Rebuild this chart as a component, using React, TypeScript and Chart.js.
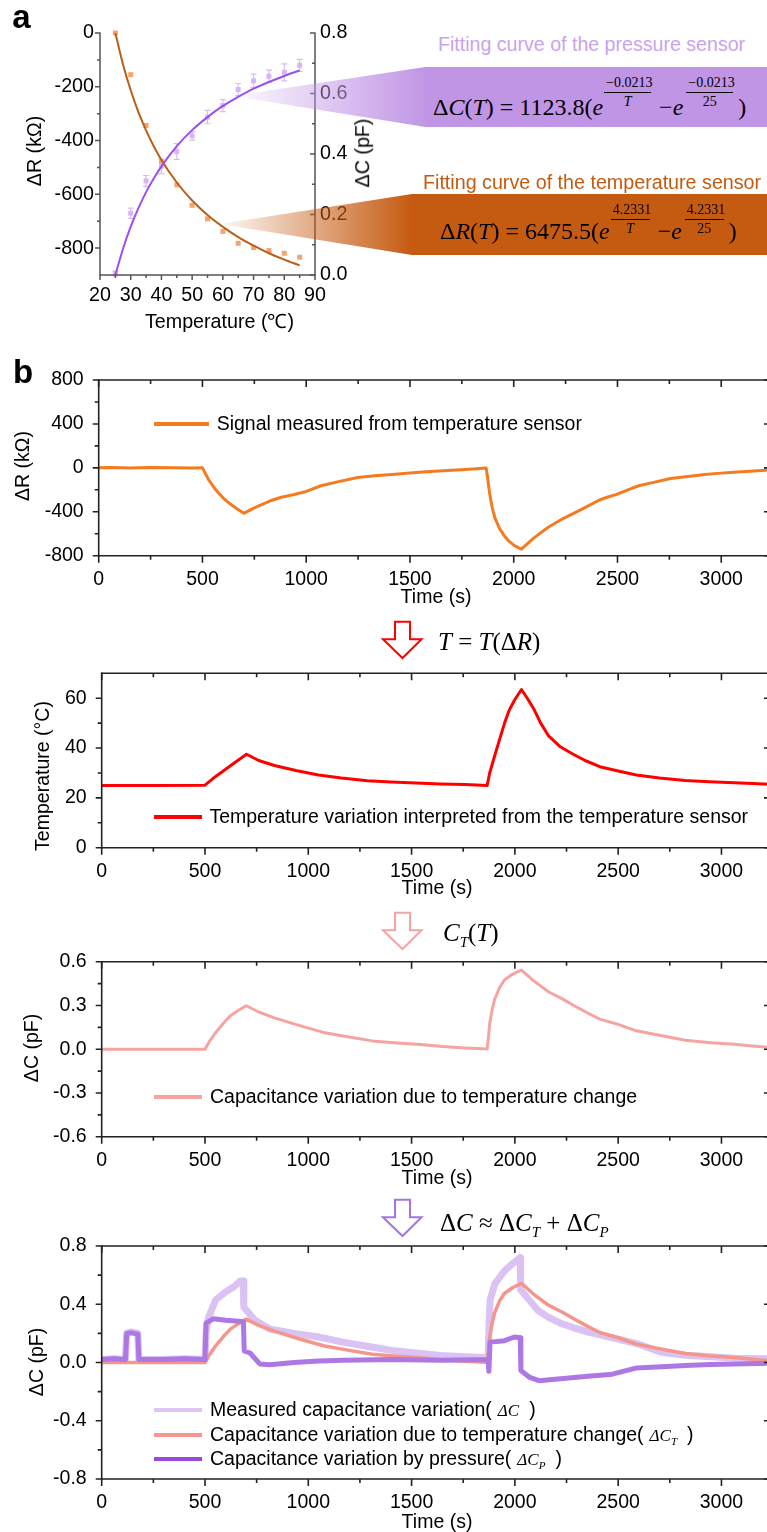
import React, { useEffect, useRef } from 'react';
import { Chart, registerables } from 'chart.js';

Chart.register(...registerables);

const SANS = "'Liberation Sans', Arial, Helvetica, sans-serif";
const SERIF = "'Liberation Serif', 'Times New Roman', Times, serif";
Chart.defaults.font.family = SANS;

// ---------------- Panel a data ----------------
const A_TEMPS = [25, 30, 35, 40, 45, 50, 55, 60, 65, 70, 75, 80, 85];
const A_DR = [0, -155, -344, -478, -565, -641, -691, -738, -782, -798, -809, -819, -834];
const A_DC = [0.005, 0.204, 0.311, 0.359, 0.408, 0.46, 0.522, 0.56, 0.613, 0.642, 0.657, 0.67, 0.693];
const A_DC_ERR = [0.008, 0.017, 0.018, 0.024, 0.026, 0.014, 0.022, 0.02, 0.02, 0.022, 0.02, 0.028, 0.02];
const A_FIT_T = [25, 27.5, 30, 32.5, 35, 37.5, 40, 45, 50, 55, 60, 65, 70, 75, 80, 85];
const A_FIT_DR = [0, -117, -213, -294, -362, -421, -472, -556, -623, -677, -721, -759, -791, -819, -843, -864];
const A_FIT_DC = [0, 0.087, 0.16, 0.221, 0.274, 0.319, 0.359, 0.426, 0.479, 0.522, 0.559, 0.589, 0.616, 0.638, 0.658, 0.676];
const A_X_TICKS = [20, 30, 40, 50, 60, 70, 80, 90];
const A_X_MINOR = [25, 35, 45, 55, 65, 75, 85];
const A_YL_TICKS = [0, -200, -400, -600, -800];
const A_YL_MINOR = [-100, -300, -500, -700];
const A_YR_TICKS = [0, 0.2, 0.4, 0.6, 0.8];
const A_YR_MINOR = [0.1, 0.3, 0.5, 0.7];

// ---------------- Panel b data ----------------
const X_MAX = 3235;
const B_X_TICKS = [0, 500, 1000, 1500, 2000, 2500, 3000];
const B_X_MINOR = [250, 750, 1250, 1750, 2250, 2750];

const B1_T = [0, 60, 150, 250, 350, 450, 500, 530, 565, 600, 636, 670, 699, 750, 824, 880, 942, 1000, 1071, 1150, 1248, 1330, 1413, 1500, 1578, 1680, 1766, 1820, 1867, 1872, 1884, 1895, 1910, 1931, 1955, 1978, 2005, 2037, 2096, 2166, 2230, 2296, 2350, 2413, 2450, 2496, 2550, 2602, 2680, 2755, 2840, 2920, 3000, 3061, 3140, 3214, 3235];
const B1_DR = [0, 4, -2, 3, 0, -2, 0, -110, -202, -275, -332, -378, -414, -365, -302, -268, -242, -215, -163, -128, -88, -72, -60, -48, -36, -25, -15, -8, -2, -60, -233, -353, -460, -550, -620, -670, -710, -740, -640, -541, -470, -408, -355, -293, -268, -242, -200, -163, -130, -97, -78, -60, -48, -39, -30, -21, -19];
const B1_Y_TICKS = [800, 400, 0, -400, -800];
const B1_Y_MINOR = [600, 200, -200, -600];

const B2_T = [0, 250, 500, 550, 600, 650, 701, 760, 836, 940, 1049, 1160, 1286, 1400, 1523, 1640, 1759, 1866, 1878, 1901, 1925, 1950, 1973, 2000, 2032, 2060, 2091, 2125, 2162, 2220, 2280, 2340, 2411, 2500, 2588, 2700, 2825, 2940, 3062, 3150, 3235];
const B2_TEMP = [25, 25, 25.1, 28.5, 31.5, 34.5, 37.5, 35, 33, 31, 29.2, 28, 26.9, 26.4, 26, 25.6, 25.4, 25, 30, 36.5, 43.2, 50, 55.3, 59.5, 63.5, 60, 55.8, 50, 45, 40.5, 37.6, 35, 32.5, 30.8, 29.2, 28, 27, 26.5, 26.1, 25.8, 25.5];
const B2_Y_TICKS = [0, 20, 40, 60];
const B2_Y_MINOR = [10, 30, 50];

const B3_T = [0, 250, 500, 520, 552, 590, 623, 660, 700, 760, 836, 950, 1073, 1190, 1310, 1430, 1546, 1650, 1759, 1866, 1872, 1878, 1890, 1901, 1925, 1949, 1990, 2032, 2090, 2162, 2230, 2292, 2350, 2411, 2500, 2588, 2700, 2825, 2950, 3062, 3150, 3235];
const B3_DCT = [0, 0, 0, 0.05, 0.115, 0.18, 0.229, 0.265, 0.298, 0.255, 0.215, 0.165, 0.115, 0.085, 0.057, 0.043, 0.032, 0.018, 0.009, 0.002, 0.08, 0.176, 0.27, 0.337, 0.42, 0.474, 0.515, 0.543, 0.47, 0.394, 0.345, 0.295, 0.25, 0.206, 0.17, 0.126, 0.095, 0.062, 0.045, 0.034, 0.022, 0.012];
const B3_Y_TICKS = [0.6, 0.3, 0, -0.3, -0.6];
const B3_Y_MINOR = [0.45, 0.15, -0.15, -0.45];

const B4_MEAS_T = [0, 60, 115, 121, 140, 175, 180, 300, 400, 500, 505, 517, 552, 600, 640, 670, 685, 688, 742, 813, 931, 1050, 1168, 1290, 1405, 1520, 1642, 1760, 1870, 1876, 1880, 1903, 1950, 1990, 2009, 2026, 2028, 2069, 2110, 2163, 2220, 2282, 2350, 2412, 2500, 2590, 2650, 2709, 2827, 2950, 3064, 3150, 3235];
const B4_MEAS = [0.02, 0.025, 0.02, 0.2, 0.21, 0.2, 0.02, 0.02, 0.025, 0.02, 0.2, 0.31, 0.43, 0.485, 0.52, 0.56, 0.56, 0.38, 0.29, 0.23, 0.2, 0.175, 0.14, 0.11, 0.083, 0.065, 0.048, 0.04, 0.035, 0.3, 0.43, 0.54, 0.63, 0.68, 0.7, 0.72, 0.5, 0.43, 0.36, 0.31, 0.27, 0.24, 0.21, 0.19, 0.16, 0.13, 0.1, 0.07, 0.05, 0.04, 0.03, 0.028, 0.025];
const B4_P_T = [0, 60, 115, 121, 140, 175, 180, 300, 400, 500, 505, 540, 600, 650, 686, 690, 718, 765, 813, 931, 1050, 1168, 1405, 1642, 1870, 1874, 1880, 1950, 1998, 2026, 2029, 2069, 2116, 2235, 2353, 2472, 2590, 2709, 2827, 2945, 3064, 3235];
const B4_P = [0.02, 0.025, 0.02, 0.2, 0.205, 0.195, 0.02, 0.02, 0.025, 0.02, 0.27, 0.3, 0.29, 0.285, 0.28, 0.08, 0.065, -0.01, -0.015, 0, 0.01, 0.015, 0.02, 0.015, 0.02, -0.06, 0.14, 0.15, 0.175, 0.17, -0.055, -0.1, -0.125, -0.11, -0.095, -0.08, -0.037, -0.03, -0.02, -0.014, -0.01, -0.005];
const B4_Y_TICKS = [0.8, 0.4, 0, -0.4, -0.8];
const B4_Y_MINOR = [0.6, 0.2, -0.2, -0.6];

const pts = (xs: number[], ys: number[]) => xs.map((x, i) => ({ x, y: ys[i] }));

type Side = {
  side: 'left' | 'right' | 'top' | 'bottom';
  scale: string;
  major: number[];
  minor: number[];
  out: boolean;
  majorLen: number;
  minorLen: number;
};

function framePlugin(sides: Side[], color: string, width: number) {
  return {
    id: 'frame',
    afterDraw(chart: any) {
      const ctx = chart.ctx;
      const a = chart.chartArea;
      ctx.save();
      ctx.strokeStyle = color;
      ctx.lineWidth = width;
      ctx.lineCap = 'butt';
      const e = width / 2;
      for (const s of sides) {
        const sc = chart.scales[s.scale];
        ctx.beginPath();
        if (s.side === 'left') { ctx.moveTo(a.left, a.top - e); ctx.lineTo(a.left, a.bottom + e); }
        if (s.side === 'right') { ctx.moveTo(a.right, a.top - e); ctx.lineTo(a.right, a.bottom + e); }
        if (s.side === 'top') { ctx.moveTo(a.left - e, a.top); ctx.lineTo(a.right + e, a.top); }
        if (s.side === 'bottom') { ctx.moveTo(a.left - e, a.bottom); ctx.lineTo(a.right + e, a.bottom); }
        const tick = (v: number, len: number) => {
          const p = sc.getPixelForValue(v);
          const d = s.out ? len : -len;
          if (s.side === 'left') { ctx.moveTo(a.left, p); ctx.lineTo(a.left - d, p); }
          if (s.side === 'right') { ctx.moveTo(a.right, p); ctx.lineTo(a.right + d, p); }
          if (s.side === 'top') { ctx.moveTo(p, a.top); ctx.lineTo(p, a.top - d); }
          if (s.side === 'bottom') { ctx.moveTo(p, a.bottom); ctx.lineTo(p, a.bottom + d); }
        };
        s.major.forEach((v) => tick(v, s.majorLen));
        s.minor.forEach((v) => tick(v, s.minorLen));
        ctx.stroke();
      }
      ctx.restore();
    },
  };
}

const errorBars = {
  id: 'errbars',
  beforeDatasetsDraw(chart: any) {
    const ctx = chart.ctx;
    const xs = chart.scales.x;
    const ys = chart.scales.y2;
    ctx.save();
    ctx.strokeStyle = '#d9bcf3';
    ctx.lineWidth = 1.2;
    A_TEMPS.forEach((t, i) => {
      const px = xs.getPixelForValue(t);
      const y1 = ys.getPixelForValue(A_DC[i] - A_DC_ERR[i]);
      const y2 = ys.getPixelForValue(A_DC[i] + A_DC_ERR[i]);
      ctx.beginPath();
      ctx.moveTo(px, y1); ctx.lineTo(px, y2);
      ctx.moveTo(px - 3, y1); ctx.lineTo(px + 3, y1);
      ctx.moveTo(px - 3, y2); ctx.lineTo(px + 3, y2);
      ctx.stroke();
    });
    ctx.restore();
  },
};

function linAxis(position: string, min: number, max: number, ticks: number[], fit: (s: any) => void, padding: number, size: number, fmt: (v: number) => string) {
  return {
    type: 'linear',
    position,
    min,
    max,
    afterBuildTicks: (s: any) => { s.ticks = ticks.map((v) => ({ value: v })); },
    afterFit: fit,
    grid: { display: false, drawTicks: false },
    border: { display: false },
    ticks: {
      padding,
      color: '#000',
      font: { family: SANS, size },
      autoSkip: false,
      maxRotation: 0,
      minRotation: 0,
      callback: (v: any) => fmt(Number(v)),
    },
  };
}

const baseOpts = {
  responsive: false,
  maintainAspectRatio: false,
  animation: false,
  events: [],
  plugins: { legend: { display: false }, tooltip: { enabled: false } },
  elements: { point: { radius: 0 }, line: { tension: 0 } },
};

type Geo = { w: number; h: number; padLeft: number; padTop: number; padBottom: number; padRight: number };

function cfgA(): any {
  const g: Geo = { w: 400, h: 320, padLeft: 100, padTop: 33, padBottom: 45, padRight: 85 };
  return {
    type: 'line',
    data: {
      datasets: [
        { data: pts(A_TEMPS, A_DR), yAxisID: 'y', showLine: false, pointStyle: 'rect', pointRadius: 3.5, pointBackgroundColor: '#f8a36c', pointBorderWidth: 0, clip: false, order: 4 },
        { data: pts(A_FIT_T, A_FIT_DR), yAxisID: 'y', borderColor: '#b95f17', borderWidth: 2, pointRadius: 0, cubicInterpolationMode: 'monotone', order: 3 },
        { data: pts(A_TEMPS, A_DC), yAxisID: 'y2', showLine: false, pointStyle: 'rect', pointRadius: 3.5, pointBackgroundColor: '#d7b6f2', pointBorderWidth: 0, clip: false, order: 2 },
        { data: pts(A_FIT_T, A_FIT_DC), yAxisID: 'y2', borderColor: '#9a4ff0', borderWidth: 2, pointRadius: 0, cubicInterpolationMode: 'monotone', order: 1 },
      ],
    },
    options: {
      ...baseOpts,
      layout: { padding: { top: g.padTop, right: 0, left: 0, bottom: 0 } },
      scales: {
        x: linAxis('bottom', 20, 90, A_X_TICKS, (s) => { s.height = g.padBottom; }, 9, 19.7, (v) => String(v)),
        y: linAxis('left', -900, 0, A_YL_TICKS, (s) => { s.width = g.padLeft; }, 6, 19.7, (v) => String(v)),
        y2: linAxis('right', 0, 0.8, A_YR_TICKS, (s) => { s.width = g.padRight; }, 5, 19.7, (v) => v.toFixed(1)),
      },
    },
    plugins: [
      errorBars,
      framePlugin([
        { side: 'left', scale: 'y', major: A_YL_TICKS, minor: A_YL_MINOR, out: true, majorLen: 5, minorLen: 3 },
        { side: 'bottom', scale: 'x', major: A_X_TICKS, minor: A_X_MINOR, out: true, majorLen: 5, minorLen: 3 },
        { side: 'right', scale: 'y2', major: A_YR_TICKS, minor: A_YR_MINOR, out: false, majorLen: 5, minorLen: 3 },
      ], '#555', 1.5),
    ],
  };
}

function cfgB(g: Geo, datasets: any[], yMin: number, yMax: number, yTicks: number[], yMinor: number[], fmt: (v: number) => string): any {
  return {
    type: 'line',
    data: { datasets },
    options: {
      ...baseOpts,
      layout: { padding: { top: g.padTop, right: 0, left: 0, bottom: 0 } },
      scales: {
        x: linAxis('bottom', 0, X_MAX, B_X_TICKS, (s) => { s.height = g.padBottom; }, 12, 19.5, (v) => String(v)),
        y: linAxis('left', yMin, yMax, yTicks, (s) => { s.width = g.padLeft; }, 15, 19.5, fmt),
      },
    },
    plugins: [
      framePlugin([
        { side: 'left', scale: 'y', major: yTicks, minor: yMinor, out: true, majorLen: 6, minorLen: 4 },
        { side: 'bottom', scale: 'x', major: B_X_TICKS, minor: B_X_MINOR, out: true, majorLen: 7, minorLen: 4 },
        { side: 'top', scale: 'x', major: B_X_TICKS, minor: B_X_MINOR, out: false, majorLen: 7, minorLen: 4 },
        { side: 'right', scale: 'y', major: yTicks, minor: [], out: false, majorLen: 6, minorLen: 0 },
      ], '#222', 1.6),
    ],
  };
}

const G1: Geo = { w: 770, h: 256, padLeft: 98.7, padTop: 40, padBottom: 40.3, padRight: 0 };
const G2: Geo = { w: 770, h: 256, padLeft: 101.7, padTop: 40.3, padBottom: 41.3, padRight: 0 };
const G3: Geo = { w: 770, h: 256, padLeft: 101.7, padTop: 40.7, padBottom: 40.3, padRight: 0 };
const G4: Geo = { w: 770, h: 314, padLeft: 101.7, padTop: 40, padBottom: 41, padRight: 0 };

const line = (data: any, color: string, width: number, order = 1) => ({ data, borderColor: color, borderWidth: width, pointRadius: 0, fill: false, order, borderJoinStyle: 'round', borderCapStyle: 'round' });

// ---------------- HTML helpers ----------------
const Txt = ({ x, y, children, size = 19.5, color = '#000', rot = false, align = 'center', family = SANS, weight = 400, italic = false }: any) => {
  const tx = align === 'center' ? '-50%' : align === 'left' ? '0' : '-100%';
  return (
    <div
      style={{
        position: 'absolute', left: x, top: y, whiteSpace: 'nowrap', lineHeight: 1,
        transform: `translate(${tx},-50%)${rot ? ' rotate(-90deg)' : ''}`,
        fontSize: size, color, fontFamily: family, fontWeight: weight, fontStyle: italic ? 'italic' : 'normal',
      }}
    >
      {children}
    </div>
  );
};

const I = ({ children }: any) => <span style={{ fontStyle: 'italic' }}>{children}</span>;
const Sub = ({ children, size = 15, drop = 6 }: any) => (
  <span style={{ fontStyle: 'italic', fontSize: size, position: 'relative', top: drop }}>{children}</span>
);

const Frac = ({ num, den, w, raise, ml = 0, denItalic = false }: any) => (
  <span style={{ display: 'inline-block', width: w, height: 0, position: 'relative', verticalAlign: 'baseline', marginLeft: ml }}>
    <span style={{ position: 'absolute', left: 0, width: w, bottom: raise, display: 'flex', flexDirection: 'column', alignItems: 'center', fontSize: 14, lineHeight: '15px', fontStyle: 'normal' }}>
      <span style={{ borderBottom: '1px solid #000', padding: '0 2px 2px', width: w - 4, textAlign: 'center' }}>{num}</span>
      <span style={{ paddingTop: 1, fontStyle: denItalic ? 'italic' : 'normal' }}>{den}</span>
    </span>
  </span>
);

const Arrow = ({ x, y, color }: any) => (
  <svg style={{ position: 'absolute', left: x, top: y }} width={43} height={41}>
    <polygon points="14,1.7 29,1.7 29,19.3 40.5,19.3 21.5,38 2,19.3 14,19.3" fill="#fff" stroke={color} strokeWidth={2} strokeLinejoin="miter" />
  </svg>
);

const LegendItem = ({ x1, x2, y, color, textX, children, thick = 4 }: any) => (
  <>
    <div style={{ position: 'absolute', left: x1, top: y - thick / 2, width: x2 - x1, height: thick, background: color }} />
    <Txt x={textX} y={y} align="left">{children}</Txt>
  </>
);

const mathStyle: any = { fontFamily: SERIF, fontStyle: 'italic', fontSize: 17 };

export default function App() {
  const refA = useRef<HTMLCanvasElement>(null);
  const ref1 = useRef<HTMLCanvasElement>(null);
  const ref2 = useRef<HTMLCanvasElement>(null);
  const ref3 = useRef<HTMLCanvasElement>(null);
  const ref4 = useRef<HTMLCanvasElement>(null);

  useEffect(() => {
    const charts: Chart[] = [];
    charts.push(new Chart(refA.current as HTMLCanvasElement, cfgA()));
    charts.push(new Chart(ref1.current as HTMLCanvasElement, cfgB(G1, [line(pts(B1_T, B1_DR), '#f47b20', 3)], -800, 800, B1_Y_TICKS, B1_Y_MINOR, (v) => String(v))));
    charts.push(new Chart(ref2.current as HTMLCanvasElement, cfgB(G2, [line(pts(B2_T, B2_TEMP), '#ff0000', 3)], 0, 70, B2_Y_TICKS, B2_Y_MINOR, (v) => String(v))));
    charts.push(new Chart(ref3.current as HTMLCanvasElement, cfgB(G3, [line(pts(B3_T, B3_DCT), '#f6a4a2', 3)], -0.6, 0.6, B3_Y_TICKS, B3_Y_MINOR, (v) => v.toFixed(1))));
    charts.push(new Chart(ref4.current as HTMLCanvasElement, cfgB(G4, [
      line(pts(B4_MEAS_T, B4_MEAS), '#dac3f3', 7, 3),
      line(pts(B3_T, B3_DCT), '#f4968c', 3.5, 2),
      line(pts(B4_P_T, B4_P), '#ad78e4', 5, 1),
    ], -0.8, 0.8, B4_Y_TICKS, B4_Y_MINOR, (v) => v.toFixed(1))));
    return () => charts.forEach((c) => c.destroy());
  }, []);

  return (
    <div style={{ position: 'absolute', left: 0, top: 0, width: 767, height: 1532, overflow: 'hidden', background: '#fff', fontFamily: SANS }}>
      <canvas ref={refA} width={400} height={320} style={{ position: 'absolute', left: 0, top: 0 }} />
      <canvas ref={ref1} width={G1.w} height={G1.h} style={{ position: 'absolute', left: 0, top: 340 }} />
      <canvas ref={ref2} width={G2.w} height={G2.h} style={{ position: 'absolute', left: 0, top: 633 }} />
      <canvas ref={ref3} width={G3.w} height={G3.h} style={{ position: 'absolute', left: 0, top: 921 }} />
      <canvas ref={ref4} width={G4.w} height={G4.h} style={{ position: 'absolute', left: 0, top: 1206 }} />

      {/* Panel a */}
      <Txt x={21.5} y={15.6} size={33} weight={700}>a</Txt>
      <Txt x={35} y={151} size={19.7} rot>ΔR (kΩ)</Txt>
      <Txt x={219.5} y={322} size={19.7}>Temperature (℃)</Txt>
      <Txt x={363} y={153} size={19.7} rot>ΔC (pF)</Txt>

      <div style={{ position: 'absolute', left: 233, top: 66.7, width: 194, height: 60.6, clipPath: 'polygon(0px 29.3px, 194px 0px, 194px 60.6px)', background: 'linear-gradient(to right, rgba(193,149,229,0.05), rgba(193,149,229,1))' }} />
      <div style={{ position: 'absolute', left: 426, top: 66.7, width: 341, height: 60.6, background: '#c195e5' }} />
      <Txt x={438} y={45} size={19.6} color="#c9a3ec" align="left">Fitting curve of the pressure sensor</Txt>
      <div style={{ position: 'absolute', left: 433, top: 95.4, fontFamily: SERIF, fontSize: 24, lineHeight: 1, whiteSpace: 'nowrap', color: '#000' }}>
        Δ<I>C</I>(<I>T</I>) = 1123.8(<I>e</I>
        <Frac num="−0.0213" den="T" denItalic w={47} raise={6} ml={1} />
        <span style={{ marginLeft: 8 }}>−</span><I>e</I>
        <Frac num="−0.0213" den="25" w={47} raise={6} ml={3} />
        <span style={{ marginLeft: 5 }}>)</span>
      </div>

      <div style={{ position: 'absolute', left: 220, top: 194, width: 192, height: 61, clipPath: 'polygon(0px 30px, 192px 0px, 192px 61px)', background: 'linear-gradient(to right, rgba(197,90,17,0.04), rgba(197,90,17,1))' }} />
      <div style={{ position: 'absolute', left: 411, top: 194, width: 356, height: 61, background: '#c55a11' }} />
      <Txt x={423} y={182.7} size={19.7} color="#c55a11" align="left">Fitting curve of the temperature sensor</Txt>
      <div style={{ position: 'absolute', left: 440, top: 219, fontFamily: SERIF, fontSize: 24, lineHeight: 1, whiteSpace: 'nowrap', color: '#000' }}>
        Δ<I>R</I>(<I>T</I>) = 6475.5(<I>e</I>
        <Frac num="4.2331" den="T" denItalic w={39} raise={3} ml={1} />
        <span style={{ marginLeft: 8 }}>−</span><I>e</I>
        <Frac num="4.2331" den="25" w={39} raise={3} ml={3} />
        <span style={{ marginLeft: 5 }}>)</span>
      </div>

      {/* Panel b1 */}
      <Txt x={23} y={370.5} size={33} weight={700}>b</Txt>
      <Txt x={23} y={466} rot>ΔR (kΩ)</Txt>
      <Txt x={436} y={596.7}>Time (s)</Txt>
      <LegendItem x1={154} x2={209} y={424} color="#f47b20" textX={216.7}>Signal measured from temperature sensor</LegendItem>

      <Arrow x={381} y={620} color="#ff0000" />
      <Txt x={438} y={640.7} size={25} family={SERIF} align="left"><I>T</I> = <I>T</I>(Δ<I>R</I>)</Txt>

      {/* Panel b2 */}
      <Txt x={43.3} y={775.8} rot>Temperature (°C)</Txt>
      <Txt x={437} y={888.3}>Time (s)</Txt>
      <LegendItem x1={154} x2={201.6} y={816.7} color="#ff0000" textX={209.4}>Temperature variation interpreted from the temperature sensor</LegendItem>

      <Arrow x={381} y={911} color="#f4a4a4" />
      <Txt x={443} y={931.7} size={25} family={SERIF} align="left"><I>C</I><Sub>T</Sub>(<I>T</I>)</Txt>

      {/* Panel b3 */}
      <Txt x={31.7} y={1048} rot>ΔC (pF)</Txt>
      <Txt x={437} y={1178.3}>Time (s)</Txt>
      <LegendItem x1={154} x2={202} y={1096.7} color="#f6a4a2" textX={210}>Capacitance variation due to temperature change</LegendItem>

      <Arrow x={381} y={1197.6} color="#a474e4" />
      <Txt x={440} y={1221.7} size={25} family={SERIF} align="left">Δ<I>C</I> ≈ Δ<I>C</I><Sub>T</Sub> + Δ<I>C</I><Sub>P</Sub></Txt>

      {/* Panel b4 */}
      <Txt x={37.3} y={1361.7} rot>ΔC (pF)</Txt>
      <Txt x={437} y={1521.7}>Time (s)</Txt>
      <LegendItem x1={154} x2={202} y={1410} color="#dcc6f4" textX={210}>
        Measured capacitance variation(<span style={{ ...mathStyle, margin: '0 10px 0 6px' }}>ΔC</span>)
      </LegendItem>
      <LegendItem x1={154} x2={202} y={1435} color="#f4968c" textX={210}>
        Capacitance variation due to temperature change(<span style={{ ...mathStyle, margin: '0 10px 0 6px' }}>ΔC<Sub size={11} drop={4}>T</Sub></span>)
      </LegendItem>
      <LegendItem x1={154} x2={202} y={1459} color="#9a48d8" textX={210}>
        Capacitance variation by pressure(<span style={{ ...mathStyle, margin: '0 10px 0 6px' }}>ΔC<Sub size={11} drop={4}>P</Sub></span>)
      </LegendItem>
    </div>
  );
}
